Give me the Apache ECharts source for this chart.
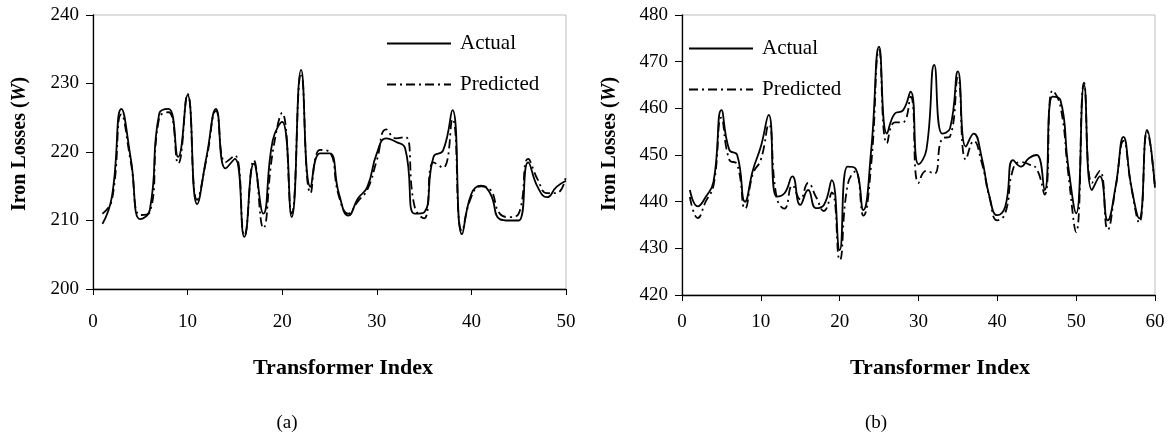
<!DOCTYPE html>
<html>
<head>
<meta charset="utf-8">
<script src="https://cdn.jsdelivr.net/npm/echarts@6/dist/echarts.min.js"></script>
<style>
  html, body { margin: 0; padding: 0; background: #fff; }
</style>
</head>
<body>
<div id="chart" style="width:1171px;height:440px;"></div>
<script>
// panel (a): transformers 1..50
var actualA = [209.5, 213.5, 226.3, 219.0, 210.2, 211.5, 225.6, 226.3, 219.3, 228.3,
  212.4, 219.3, 226.3, 217.6, 219.0, 207.6, 218.3, 211.0, 221.7, 224.4,
  210.5, 232.0, 214.9, 219.8, 219.8, 213.9, 210.7, 213.2, 214.9, 219.8,
  222.0, 221.5, 220.5, 211.0, 211.2, 219.3, 220.2, 226.1, 208.0, 213.9,
  215.1, 213.9, 210.2, 210.0, 210.0, 218.5, 214.9, 213.4, 214.9, 215.8];
var predictedA = [211.0, 213.0, 225.5, 218.5, 210.8, 211.2, 225.0, 225.8, 218.3, 228.5,
  213.0, 219.0, 226.0, 218.5, 219.5, 207.8, 218.8, 208.9, 220.0, 225.7,
  211.0, 231.5, 214.0, 220.3, 220.0, 213.5, 211.0, 212.8, 214.5, 218.8,
  223.3, 222.0, 222.2, 212.0, 210.3, 218.5, 217.7, 224.8, 208.5, 213.5,
  215.0, 214.5, 211.0, 210.5, 211.0, 219.0, 216.0, 214.0, 214.0, 216.5];

// panel (b): transformers 1..60
var actualB = [442.5, 439.0, 441.0, 444.3, 459.6, 451.1, 450.0, 440.0, 446.8, 451.8,
  458.6, 441.1, 441.8, 445.4, 439.3, 442.5, 438.6, 439.3, 444.6, 429.6,
  447.5, 447.1, 438.2, 451.1, 473.2, 454.6, 458.9, 459.5, 463.6, 448.0,
  451.1, 469.3, 454.6, 455.7, 467.9, 451.8, 454.6, 449.6, 441.1, 437.1,
  438.9, 448.9, 447.5, 449.3, 450.0, 442.5, 462.5, 461.8, 447.5, 437.5,
  465.0, 442.5, 445.4, 436.0, 443.2, 453.9, 443.2, 436.4, 455.4, 443.0];
var predictedB = [441.0, 436.5, 440.0, 443.5, 458.0, 449.0, 448.0, 438.5, 446.0, 449.0,
  456.5, 441.0, 438.5, 443.5, 440.5, 444.0, 441.0, 438.0, 442.0, 427.5,
  443.5, 446.5, 437.0, 448.0, 472.5, 452.5, 457.0, 457.0, 462.5, 444.0,
  446.6, 446.0, 453.5, 454.0, 466.5, 449.0, 453.0, 448.5, 441.0, 436.0,
  437.5, 447.0, 448.5, 448.0, 447.0, 441.5, 463.8, 460.5, 446.0, 433.5,
  465.5, 444.0, 446.6, 434.0, 443.0, 453.0, 443.0, 435.5, 455.0, 443.0];

function pairs(arr) {
  return arr.map(function (v, i) { return [i + 1, v]; });
}

var serif = '"Liberation Serif", "DejaVu Serif", serif';
var dashDot = [9, 4, 2, 4];

function xAxisFor(idx, max, margin) {
  return {
    gridIndex: idx, type: 'value', min: 0, max: max, interval: 10,
    axisLine: { show: true, onZero: false, lineStyle: { color: '#000', width: 1.3 } },
    axisTick: { show: true, inside: false, length: 6, lineStyle: { color: '#000' } },
    axisLabel: { color: '#000', fontFamily: serif, fontSize: 19, margin: margin },
    splitLine: { show: false }
  };
}
function yAxisFor(idx, min, max) {
  return {
    gridIndex: idx, type: 'value', min: min, max: max, interval: 10,
    axisLine: { show: true, onZero: false, lineStyle: { color: '#000', width: 1.3 } },
    axisTick: { show: true, inside: false, length: 7, lineStyle: { color: '#000' } },
    axisLabel: { color: '#000', fontFamily: serif, fontSize: 19, margin: 14 },
    splitLine: { show: false }
  };
}
function lineSeries(name, data, idx, dashed) {
  return {
    name: name, type: 'line', xAxisIndex: idx, yAxisIndex: idx,
    data: data, smooth: 0.5, symbol: 'none', silent: true,
    lineStyle: { color: '#000', width: 1.8, type: dashed ? dashDot : 'solid' },
    itemStyle: { color: '#000' }
  };
}
function legendFor(left, top) {
  return {
    data: ['Actual', 'Predicted'], orient: 'vertical', left: left, top: top,
    itemWidth: 64, itemHeight: 14, itemGap: 20,
    itemStyle: { opacity: 0 },
    textStyle: { color: '#000', fontFamily: serif, fontSize: 21, padding: [0, 0, 0, 4] },
    selectedMode: false
  };
}

var chart = echarts.init(document.getElementById('chart'));
chart.setOption({
  backgroundColor: '#fff',
  animation: false,
  legend: [legendFor(381, 28), legendFor(683, 33)],
  grid: [
    { left: 93, top: 15, width: 473, height: 274, show: true, borderColor: '#bdbdbd', borderWidth: 1 },
    { left: 682, top: 15, width: 473, height: 280, show: true, borderColor: '#bdbdbd', borderWidth: 1 }
  ],
  xAxis: [xAxisFor(0, 50, 24), xAxisFor(1, 60, 18)],
  yAxis: [yAxisFor(0, 200, 240), yAxisFor(1, 420, 480)],
  series: [
    lineSeries('Actual', pairs(actualA), 0, false),
    lineSeries('Predicted', pairs(predictedA), 0, true),
    lineSeries('Actual', pairs(actualB), 1, false),
    lineSeries('Predicted', pairs(predictedB), 1, true)
  ],
  graphic: [
    { type: 'text', x: 343, y: 368, style: { text: 'Transformer Index', fill: '#000', font: 'bold 22px ' + serif, align: 'center', verticalAlign: 'middle' } },
    { type: 'text', x: 940, y: 368, style: { text: 'Transformer Index', fill: '#000', font: 'bold 22px ' + serif, align: 'center', verticalAlign: 'middle' } },
    { type: 'text', x: 287, y: 423, style: { text: '(a)', fill: '#000', font: '19px ' + serif, align: 'center', verticalAlign: 'middle' } },
    { type: 'text', x: 876, y: 423, style: { text: '(b)', fill: '#000', font: '19px ' + serif, align: 'center', verticalAlign: 'middle' } },
    { type: 'text', x: 20, y: 144, rotation: Math.PI / 2,
      style: { text: '{a|Iron Losses (}{b|W}{a|)}', align: 'center', verticalAlign: 'middle',
        rich: { a: { fill: '#000', font: 'bold 20px ' + serif }, b: { fill: '#000', font: 'italic bold 20px ' + serif } } } },
    { type: 'text', x: 610, y: 144, rotation: Math.PI / 2,
      style: { text: '{a|Iron Losses (}{b|W}{a|)}', align: 'center', verticalAlign: 'middle',
        rich: { a: { fill: '#000', font: 'bold 20px ' + serif }, b: { fill: '#000', font: 'italic bold 20px ' + serif } } } }
  ]
});
</script>
</body>
</html>
